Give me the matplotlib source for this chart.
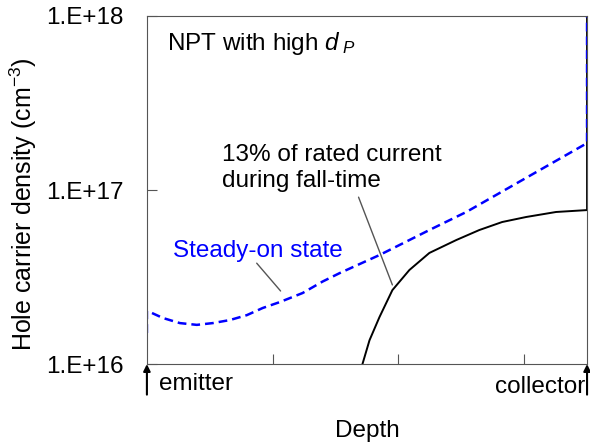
import matplotlib.pyplot as plt

plt.rcParams['font.family'] = ['Liberation Sans', 'DejaVu Sans']
plt.rcParams['mathtext.fontset'] = 'custom'
plt.rcParams['mathtext.rm'] = 'Liberation Sans'
plt.rcParams['mathtext.it'] = 'Liberation Sans:italic'

# depth in arbitrary units (ticks at 1, 2, 3; collector at 3.5)
steady_x = [0.0, 0.0, 0.024, 0.127, 0.262, 0.397, 0.524, 0.659, 0.794,
            0.921, 1.056, 1.238, 1.397, 1.532, 1.849, 2.246, 2.540,
            2.984, 3.5, 3.5]
steady_y = [1.51e16, 2.02e16, 1.99e16, 1.84e16, 1.72e16, 1.68e16,
            1.72e16, 1.79e16, 1.91e16, 2.10e16, 2.27e16, 2.56e16,
            2.98e16, 3.33e16, 4.23e16, 5.89e16, 7.48e16, 1.14e17,
            1.86e17, 1.0e18]

fall_x = [1.714, 1.770, 1.849, 1.952, 2.087, 2.246, 2.460, 2.643, 2.825,
          3.016, 3.254, 3.5, 3.5]
fall_y = [1.0e16, 1.37e16, 1.86e16, 2.66e16, 3.47e16, 4.35e16, 5.16e16,
          5.89e16, 6.55e16, 7.0e16, 7.48e16, 7.67e16, 1.0e18]

fig = plt.figure(figsize=(5.9, 4.44), dpi=100)
ax = fig.add_axes([0.249, 0.180, 0.746, 0.784])

ax.plot(fall_x, fall_y, color='black', lw=1.4)
ax.plot(steady_x, steady_y, color='blue', lw=1.8, dashes=(3.5, 2))

ax.set_yscale('log')
ax.set_xlim(0, 3.5)
ax.set_ylim(1e16, 1e18)
ax.set_yticks([1e16, 1e17, 1e18])
ax.set_yticklabels(['1.E+16', '1.E+17', '1.E+18'])
ax.yaxis.set_minor_locator(plt.NullLocator())
ax.set_xticks([1, 2, 3])
ax.set_xticklabels([])
ax.tick_params(direction='in', length=7, labelsize=17.5, color='#555555')
ax.tick_params(axis='y', pad=17)
for s in ax.spines.values():
    s.set_color('#555555')

ax.set_xlabel('Depth', fontsize=17.5, labelpad=37)
ax.set_ylabel('Hole carrier density (cm$^{-3}$)', fontsize=18)
ax.yaxis.set_label_coords(-0.245, 0.46)

ax.text(0.159, 6.38e17, 'NPT with high $d_{\\;P}$', fontsize=17.5,
        va='baseline')

ax.text(0.595, 1.04e17, '13% of rated current\nduring fall-time',
        fontsize=17.5, linespacing=1.22, va='baseline')
ax.annotate('', xy=(1.952, 2.85e16), xytext=(1.683, 9.1e16),
            arrowprops=dict(arrowstyle='-', color='#555555', lw=1,
                            shrinkA=0, shrinkB=0))

ax.text(0.206, 4.12e16, 'Steady-on state', fontsize=17.5, color='blue',
        va='baseline')
ax.annotate('', xy=(1.063, 2.63e16), xytext=(0.873, 3.8e16),
            arrowprops=dict(arrowstyle='-', color='#555555', lw=1,
                            shrinkA=0, shrinkB=0))

for xa in (0, 3.5):
    ax.annotate('', xy=(xa, 1.0e16), xycoords='data',
                xytext=(0, -22), textcoords='offset points',
                arrowprops=dict(arrowstyle='-|>', color='black', lw=1.5,
                                mutation_scale=10, shrinkA=0, shrinkB=0),
                annotation_clip=False)
ax.annotate('emitter', xy=(0, 1e16), xytext=(9, -19),
            textcoords='offset points', fontsize=17.5, va='baseline',
            annotation_clip=False)
ax.annotate('collector', xy=(3.5, 1e16), xytext=(-1.5, -21),
            textcoords='offset points', fontsize=17.5, va='baseline',
            ha='right', annotation_clip=False)

fig.savefig('out.png', dpi=100)
